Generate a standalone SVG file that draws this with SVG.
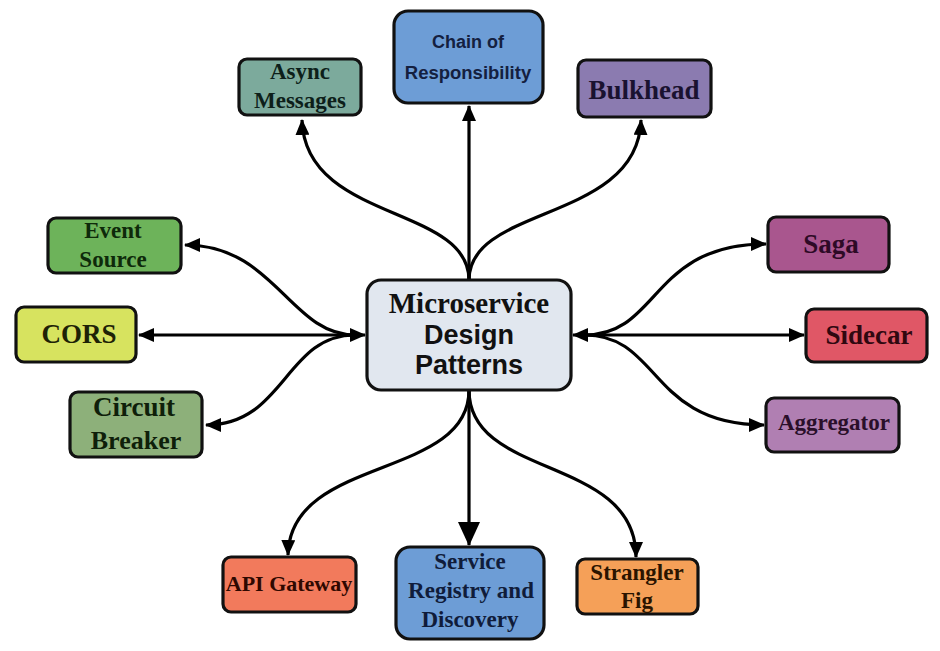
<svg xmlns="http://www.w3.org/2000/svg" width="940" height="651" viewBox="0 0 940 651">
<defs>
<marker id="ah" markerUnits="userSpaceOnUse" markerWidth="16" markerHeight="14" refX="15" refY="7" orient="auto-start-reverse" viewBox="0 0 16 14"><path d="M0,0 L16,7 L0,14 z" fill="#000"/></marker>
<marker id="ahb" markerUnits="userSpaceOnUse" markerWidth="24" markerHeight="22" refX="23" refY="11" orient="auto" viewBox="0 0 24 22"><path d="M0,0 L24,11 L0,22 z" fill="#000"/></marker>
</defs>
<style>
.box{stroke:#111;stroke-width:3.2}
.c{fill:none;stroke:#000;stroke-width:3.2}
.s{font-family:"Liberation Serif","Times New Roman",serif;font-weight:bold;text-anchor:middle}
.a{font-family:"Liberation Sans",Arial,sans-serif;font-weight:bold;text-anchor:middle}
</style>
<rect width="940" height="651" fill="#fff"/>
<g id="connectors">
<path class="c" d="M469,280 L469,106" marker-end="url(#ah)"/>
<path class="c" d="M469,280 C469,205 305,222 302,120" marker-end="url(#ah)"/>
<path class="c" d="M469,280 C469,205 638,222 641,120" marker-end="url(#ah)"/>
<path class="c" d="M365,335 L139,335" marker-end="url(#ah)" marker-start="url(#ah)"/>
<path class="c" d="M355,335 C290,335 275,245 185,245" marker-end="url(#ah)"/>
<path class="c" d="M355,335 C285,335 285,425 206,425" marker-end="url(#ah)"/>
<path class="c" d="M573,335 L804,335" marker-end="url(#ah)" marker-start="url(#ah)"/>
<path class="c" d="M585,335 C660,335 650,244 766,244" marker-end="url(#ah)"/>
<path class="c" d="M585,335 C660,335 650,425 764,425" marker-end="url(#ah)"/>
<path class="c" d="M469,390 L469,545" marker-end="url(#ahb)"/>
<path class="c" d="M469,390 C469,480 290,455 288,555" marker-end="url(#ah)"/>
<path class="c" d="M469,390 C469,480 636,455 636,557" marker-end="url(#ah)"/>
</g>
<g id="center">
<rect class="box" x="367" y="280" width="204" height="110" rx="14" fill="#e1e7ef"/>
<text class="s" x="469" y="313" font-size="29" fill="#111">Microservice</text>
<text class="a" x="469" y="344" font-size="27" fill="#111">Design</text>
<text class="a" x="469" y="374" font-size="27" fill="#111">Patterns</text>
</g>
<g id="chain">
<rect class="box" x="394" y="11" width="149" height="92" rx="14" fill="#6d9dd6"/>
<text class="a" x="468" y="48" font-size="18" fill="#14203f">Chain of</text>
<text class="a" x="468" y="79" font-size="18.5" fill="#14203f">Responsibility</text>
</g>
<g id="async">
<rect class="box" x="239" y="59" width="122" height="56" rx="8" fill="#7caa9c"/>
<text class="s" x="300" y="79" font-size="23" fill="#0d1f1a">Async</text>
<text class="s" x="300" y="108" font-size="23" fill="#0d1f1a">Messages</text>
</g>
<g id="bulkhead">
<rect class="box" x="578" y="60" width="133" height="57" rx="8" fill="#8b7bb0"/>
<text class="s" x="644" y="99" font-size="27" fill="#1a1230">Bulkhead</text>
</g>
<g id="event">
<rect class="box" x="48" y="218" width="133" height="55" rx="8" fill="#6db35a"/>
<text class="s" x="113" y="238" font-size="23" fill="#0e2a0a">Event</text>
<text class="s" x="113" y="267" font-size="23" fill="#0e2a0a">Source</text>
</g>
<g id="cors">
<rect class="box" x="16" y="307" width="120" height="55" rx="8" fill="#d7e35f"/>
<text class="s" x="79" y="343" font-size="27" fill="#1e2206">CORS</text>
</g>
<g id="circuit">
<rect class="box" x="70" y="392" width="132" height="65" rx="8" fill="#8db07a"/>
<text class="s" x="134" y="416" font-size="27" fill="#0f1f0a">Circuit</text>
<text class="s" x="136" y="449" font-size="26" fill="#0f1f0a">Breaker</text>
</g>
<g id="saga">
<rect class="box" x="768" y="217" width="121" height="55" rx="8" fill="#a9568e"/>
<text class="s" x="831" y="253" font-size="27" fill="#2e0a26">Saga</text>
</g>
<g id="sidecar">
<rect class="box" x="806" y="309" width="121" height="53" rx="8" fill="#e05766"/>
<text class="s" x="869" y="344" font-size="27" fill="#300810">Sidecar</text>
</g>
<g id="aggregator">
<rect class="box" x="766" y="398" width="133" height="54" rx="8" fill="#b07fb2"/>
<text class="s" x="834" y="430" font-size="23" fill="#2a0f2a">Aggregator</text>
</g>
<g id="apigateway">
<rect class="box" x="223" y="557" width="133" height="55" rx="8" fill="#f27a5c"/>
<text class="s" x="289" y="591" font-size="22" fill="#2e0800">API Gateway</text>
</g>
<g id="registry">
<rect class="box" x="396" y="547" width="148" height="92" rx="14" fill="#6d9dd6"/>
<text class="s" x="470" y="569" font-size="23" fill="#101c3a">Service</text>
<text class="s" x="471" y="598" font-size="23" fill="#101c3a">Registry and</text>
<text class="s" x="470" y="627" font-size="23" fill="#101c3a">Discovery</text>
</g>
<g id="strangler">
<rect class="box" x="577" y="559" width="121" height="55" rx="8" fill="#f5a058"/>
<text class="s" x="637" y="580" font-size="23" fill="#2a1400">Strangler</text>
<text class="s" x="637" y="608" font-size="23" fill="#2a1400">Fig</text>
</g>
</svg>
